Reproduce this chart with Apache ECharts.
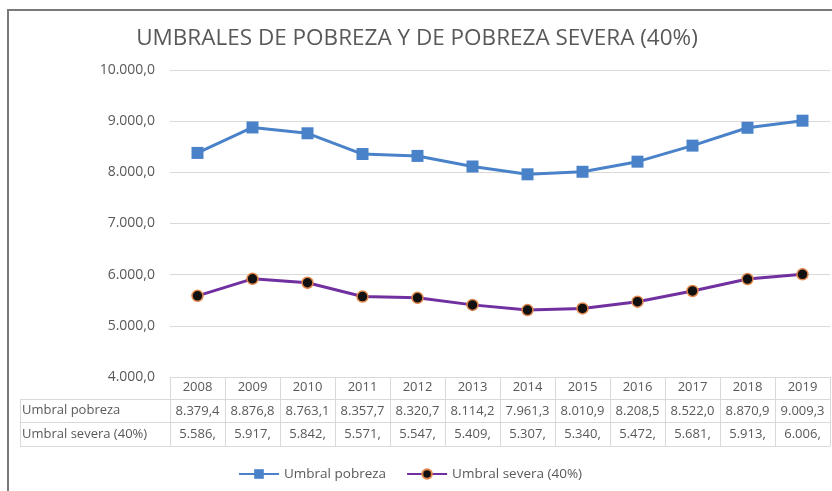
<!DOCTYPE html>
<html>
<head>
<meta charset="utf-8">
<script src="https://cdn.jsdelivr.net/npm/echarts@6/dist/echarts.min.js"></script>
<style>
  html, body { margin: 0; padding: 0; background: #fff; }
  #chart { width: 832px; height: 491px; }
</style>
</head>
<body>
<div id="chart"></div>
<script>
// datos
const years = ['2008', '2009', '2010', '2011', '2012', '2013', '2014', '2015', '2016', '2017', '2018', '2019'];
const umbralPobreza = [8379.4, 8876.8, 8763.1, 8357.7, 8320.7, 8114.2, 7961.3, 8010.9, 8208.5, 8522.0, 8870.9, 9009.3];
const umbralSevera = [5586.3, 5917.9, 5842.1, 5571.8, 5547.1, 5409.5, 5307.5, 5340.6, 5472.3, 5681.3, 5913.9, 6006.2];
// texto de la tabla tal como sale (celdas recortadas)
const tablaPobreza = ['8.379,4', '8.876,8', '8.763,1', '8.357,7', '8.320,7', '8.114,2', '7.961,3', '8.010,9', '8.208,5', '8.522,0', '8.870,9', '9.009,3'];
const tablaSevera = ['5.586,', '5.917,', '5.842,', '5.571,', '5.547,', '5.409,', '5.307,', '5.340,', '5.472,', '5.681,', '5.913,', '6.006,'];
const yTicks = [4000, 5000, 6000, 7000, 8000, 9000, 10000];

const FONT = 'Open Sans';
const GRAY = '#595959';
const CELL = '#d9d9d9';

const fmt = (v) => {
  const [ent, dec] = v.toFixed(1).split('.');
  return ent.replace(/\B(?=(\d{3})+(?!\d))/g, '.') + ',' + dec;
};

const tableAxis = (data, offset, tickLen, margin) => ({
  type: 'category',
  gridIndex: 0,
  position: 'bottom',
  offset: offset,
  data: data,
  axisLine: { show: true, lineStyle: { color: CELL, width: 1 } },
  axisTick: { show: tickLen > 0, length: tickLen, interval: 0, lineStyle: { color: CELL } },
  axisLabel: { show: data.length > 0, interval: 0, margin: margin, color: GRAY, fontFamily: FONT, fontSize: 13 },
  splitLine: { show: false },
});

const chart = echarts.init(document.getElementById('chart'));
chart.setOption({
  animation: false,
  backgroundColor: '#fff',
  textStyle: { fontFamily: FONT },
  title: {
    text: 'UMBRALES DE POBREZA Y DE POBREZA SEVERA (40%)',
    left: 412,
    textAlign: 'center',
    top: 22,
    textStyle: { color: GRAY, fontFamily: FONT, fontSize: 22.5, fontWeight: 'normal' },
  },
  legend: {
    top: 462,
    left: 233,
    itemWidth: 40,
    itemHeight: 12,
    itemGap: 20,
    textStyle: { color: GRAY, fontFamily: FONT, fontSize: 13.5 },
    data: ['Umbral pobreza', 'Umbral severa (40%)'],
  },
  grid: { left: 170, right: 2, top: 70, bottom: 114, containLabel: false },
  xAxis: [
    tableAxis(years, 0, 22, 4),
    tableAxis(tablaPobreza, 22, 23, 6),
    tableAxis(tablaSevera, 45, 24, 6),
    tableAxis([], 69, 0, 0),
  ],
  yAxis: {
    type: 'value',
    min: 4000,
    max: 10000,
    interval: 1000,
    axisLine: { show: false },
    axisTick: { show: false },
    splitLine: { lineStyle: { color: CELL } },
    axisLabel: {
      margin: 15,
      color: GRAY,
      fontFamily: FONT,
      fontSize: 14,
      formatter: (v) => (yTicks.includes(v) ? fmt(v) : ''),
    },
  },
  series: [
    {
      name: 'Umbral pobreza',
      type: 'line',
      xAxisIndex: 0,
      data: umbralPobreza,
      symbol: 'rect',
      symbolSize: 12,
      lineStyle: { color: '#4a82c9', width: 3 },
      itemStyle: { color: '#4a82c9' },
    },
    {
      name: 'Umbral severa (40%)',
      type: 'line',
      xAxisIndex: 0,
      data: umbralSevera,
      symbol: 'circle',
      symbolSize: 11,
      lineStyle: { color: '#7030a0', width: 3 },
      itemStyle: { color: '#111', borderColor: '#e0864a', borderWidth: 1.5 },
    },
  ],
  graphic: [
    // marco
    { type: 'line', shape: { x1: 7, y1: 10, x2: 832, y2: 10 }, style: { stroke: '#7a7a7a', lineWidth: 2 } },
    { type: 'line', shape: { x1: 8, y1: 10, x2: 8, y2: 491 }, style: { stroke: '#7a7a7a', lineWidth: 2 } },
    // columna de rótulos de la tabla
    { type: 'line', shape: { x1: 20, y1: 399.5, x2: 170, y2: 399.5 }, style: { stroke: CELL } },
    { type: 'line', shape: { x1: 20, y1: 422.5, x2: 170, y2: 422.5 }, style: { stroke: CELL } },
    { type: 'line', shape: { x1: 20, y1: 446.5, x2: 170, y2: 446.5 }, style: { stroke: CELL } },
    { type: 'line', shape: { x1: 20.5, y1: 399, x2: 20.5, y2: 447 }, style: { stroke: CELL } },
    { type: 'text', left: 22, top: 404, style: { text: 'Umbral pobreza', fill: GRAY, font: '13px "Open Sans"' } },
    { type: 'text', left: 22, top: 428, style: { text: 'Umbral severa (40%)', fill: GRAY, font: '13px "Open Sans"' } },
  ],
});
</script>
</body>
</html>
